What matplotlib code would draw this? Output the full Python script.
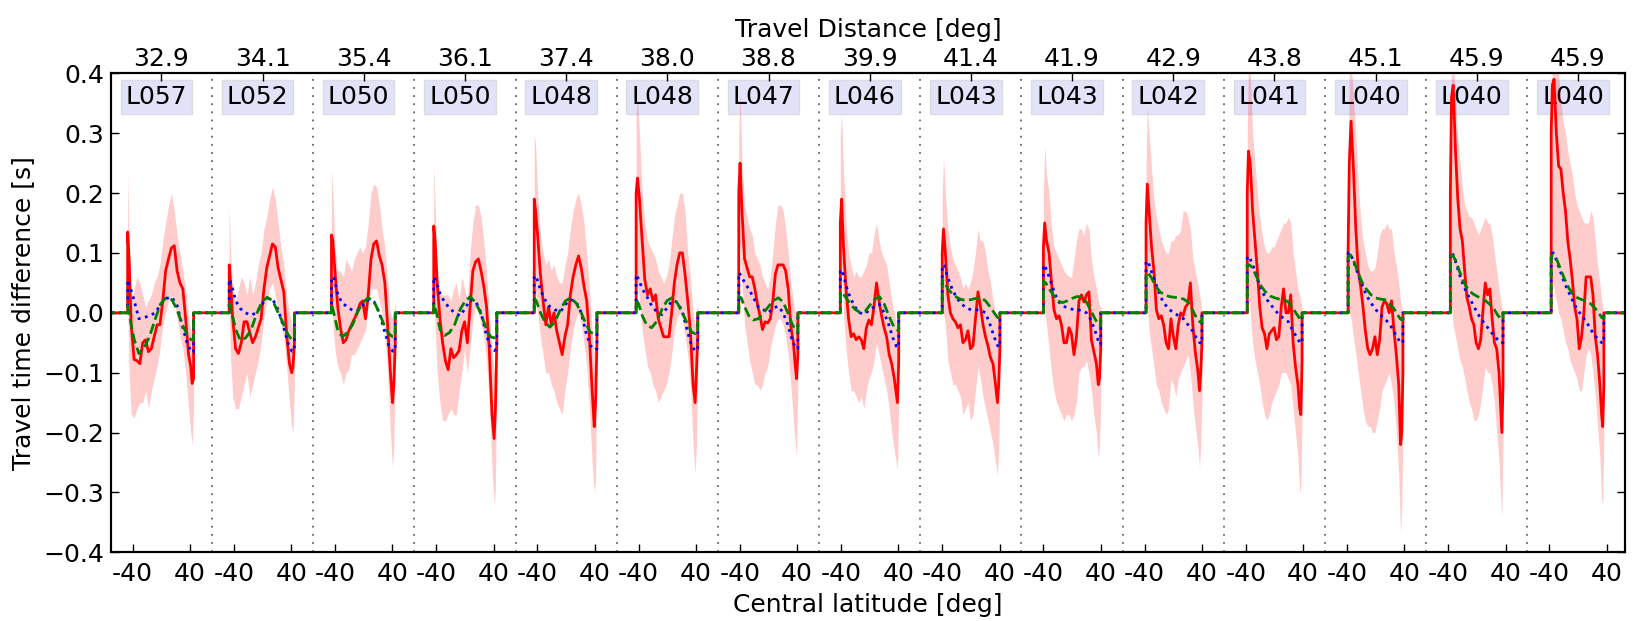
import numpy as np
import matplotlib
matplotlib.use('Agg')
import matplotlib.pyplot as plt

# Panel metadata
labels = ['L057', 'L052', 'L050', 'L050', 'L048', 'L048', 'L047', 'L046',
          'L043', 'L043', 'L042', 'L041', 'L040', 'L040', 'L040']
distances = ['32.9', '34.1', '35.4', '36.1', '37.4', '38.0', '38.8', '39.9',
             '41.4', '41.9', '42.9', '43.8', '45.1', '45.9', '45.9']
lat_lo = [-47, -46.5, -45, -43.5, -44.5, -43.5, -41.5, -41, -40, -40, -38, -38, -38.5, -37, -37.5]
lat_hi = [45, 44.5, 44, 44.5, 43, 42.5, 41, 40.5, 40.5, 40, 40, 38.5, 38, 36.5, 36]

# sample positions as fraction of each panel's latitude range
frac_obs = [0, .022, .054, .098, .141, .185, .228, .272, .315, .359, .402, .446, .489,
            .533, .576, .62, .663, .707, .75, .793, .837, .88, .924, .957, .978, 1.0]
frac_model = [0, .04, .1, .17, .25, .33, .42, .5, .58, .67, .75, .83, .9, .96, 1.0]

# observed mean travel time difference (red)
obs_mean = [
    [0.135, 0.09, -0.02, -0.078, -0.08, -0.085, -0.05, -0.045, -0.065, -0.06, -0.04, -0.02, -0.02, 0.02, 0.07, 0.09, 0.108, 0.112, 0.07, 0.05, 0.04, -0.01, -0.07, -0.09, -0.118, -0.11],
    [0.08, 0.05, -0.01, -0.06, -0.068, -0.05, -0.015, -0.015, -0.033, -0.05, -0.04, -0.025, -0.01, 0.04, 0.075, 0.095, 0.115, 0.11, 0.075, 0.055, 0.035, -0.035, -0.085, -0.1, -0.09, -0.05],
    [0.13, 0.12, 0.07, 0.01, -0.025, -0.05, -0.045, -0.03, -0.02, -0.01, 0.0, 0.015, 0.02, -0.01, 0.03, 0.09, 0.115, 0.12, 0.095, 0.08, 0.05, -0.02, -0.1, -0.15, -0.12, -0.05],
    [0.145, 0.12, 0.05, -0.01, -0.05, -0.08, -0.095, -0.06, -0.075, -0.07, -0.063, -0.03, -0.015, -0.05, 0.01, 0.07, 0.085, 0.09, 0.07, 0.045, 0.01, -0.06, -0.17, -0.21, -0.16, -0.05],
    [0.19, 0.17, 0.13, 0.065, 0.02, -0.02, 0.01, -0.02, 0.0, -0.03, -0.05, -0.07, -0.04, -0.02, 0.03, 0.06, 0.08, 0.095, 0.075, 0.045, 0.02, -0.04, -0.13, -0.19, -0.15, -0.05],
    [0.2, 0.225, 0.19, 0.12, 0.055, 0.03, 0.04, 0.02, 0.03, -0.01, -0.025, -0.04, -0.04, -0.04, 0.0, 0.05, 0.08, 0.1, 0.1, 0.065, 0.02, -0.03, -0.12, -0.15, -0.1, -0.04],
    [0.2, 0.25, 0.17, 0.09, 0.075, 0.06, 0.06, 0.04, 0.015, -0.005, -0.028, -0.015, -0.017, -0.01, 0.02, 0.065, 0.08, 0.08, 0.08, 0.07, 0.04, -0.022, -0.05, -0.09, -0.11, -0.07],
    [0.15, 0.19, 0.11, 0.04, -0.01, -0.04, -0.035, -0.045, -0.04, -0.045, -0.06, -0.025, -0.012, -0.02, 0.01, 0.05, 0.02, -0.005, -0.025, -0.04, -0.07, -0.085, -0.11, -0.135, -0.15, -0.08],
    [0.1, 0.14, 0.1, 0.03, 0.0, -0.01, -0.015, -0.025, -0.02, -0.05, -0.045, -0.03, -0.06, -0.055, -0.01, 0.035, 0.01, -0.02, -0.04, -0.055, -0.075, -0.085, -0.12, -0.15, -0.12, -0.06],
    [0.11, 0.15, 0.12, 0.1, 0.05, 0.005, -0.01, -0.005, -0.02, -0.05, -0.05, -0.025, -0.035, -0.07, -0.04, 0.02, 0.03, 0.018, 0.03, 0.035, -0.045, -0.065, -0.085, -0.12, -0.11, -0.06],
    [0.15, 0.215, 0.17, 0.11, 0.07, 0.005, -0.01, -0.005, -0.02, -0.05, -0.06, -0.01, -0.04, -0.06, -0.02, 0.0, -0.005, 0.01, 0.015, 0.05, -0.02, -0.065, -0.095, -0.13, -0.1, -0.05],
    [0.2, 0.27, 0.25, 0.17, 0.12, 0.07, 0.01, -0.025, -0.035, -0.06, -0.035, -0.03, -0.025, -0.045, -0.04, 0.01, 0.04, 0.0, 0.0, 0.03, -0.05, -0.09, -0.12, -0.16, -0.17, -0.08],
    [0.1, 0.25, 0.32, 0.24, 0.14, 0.07, 0.045, 0.01, -0.03, -0.06, -0.07, -0.06, -0.04, -0.07, -0.045, 0.01, 0.02, 0.015, 0.0, 0.02, -0.03, -0.07, -0.12, -0.22, -0.2, -0.1],
    [0.2, 0.36, 0.38, 0.27, 0.19, 0.14, 0.12, 0.07, 0.025, 0.01, -0.01, -0.02, -0.05, -0.06, -0.045, 0.005, 0.05, 0.03, 0.04, -0.01, -0.05, -0.06, -0.1, -0.16, -0.2, -0.12],
    [0.3, 0.38, 0.39, 0.3, 0.245, 0.24, 0.2, 0.17, 0.12, 0.09, 0.055, 0.01, -0.01, -0.06, -0.04, 0.0, 0.06, 0.06, 0.06, 0.03, -0.04, -0.07, -0.12, -0.17, -0.19, -0.12],
]

# upper / lower envelope (pink band)
obs_upper = [
    [0.24, 0.12, 0.02, 0.04, 0.06, 0.05, 0.03, 0.01, 0.02, 0.03, 0.05, 0.06, 0.08, 0.12, 0.15, 0.18, 0.2, 0.17, 0.13, 0.1, 0.07, 0.04, -0.01, -0.03, -0.04, -0.02],
    [0.18, 0.1, 0.04, 0.02, 0.04, 0.06, 0.05, 0.03, 0.06, 0.03, 0.05, 0.08, 0.1, 0.14, 0.16, 0.19, 0.21, 0.19, 0.15, 0.11, 0.08, 0.03, 0.0, -0.02, -0.03, -0.03],
    [0.24, 0.2, 0.11, 0.07, 0.07, 0.06, 0.09, 0.08, 0.07, 0.09, 0.1, 0.11, 0.1, 0.11, 0.15, 0.2, 0.215, 0.21, 0.18, 0.14, 0.11, 0.05, 0.0, -0.01, 0.0, 0.02],
    [0.25, 0.18, 0.08, 0.03, 0.03, 0.03, 0.03, 0.02, 0.04, 0.05, 0.02, 0.06, 0.04, 0.02, 0.1, 0.15, 0.18, 0.18, 0.16, 0.12, 0.07, 0.0, -0.06, -0.1, -0.08, -0.02],
    [0.3, 0.28, 0.2, 0.13, 0.1, 0.08, 0.09, 0.07, 0.08, 0.06, 0.05, 0.05, 0.08, 0.1, 0.14, 0.17, 0.19, 0.2, 0.18, 0.15, 0.1, 0.04, -0.03, -0.07, -0.05, 0.0],
    [0.33, 0.36, 0.3, 0.2, 0.15, 0.12, 0.11, 0.1, 0.09, 0.07, 0.06, 0.05, 0.06, 0.08, 0.12, 0.16, 0.18, 0.2, 0.2, 0.17, 0.1, 0.06, 0.0, -0.02, 0.0, 0.02],
    [0.3, 0.37, 0.25, 0.18, 0.16, 0.14, 0.13, 0.1, 0.09, 0.08, 0.06, 0.05, 0.04, 0.06, 0.1, 0.15, 0.18, 0.18, 0.17, 0.14, 0.1, 0.05, 0.02, 0.0, -0.02, 0.0],
    [0.3, 0.33, 0.24, 0.15, 0.1, 0.08, 0.06, 0.07, 0.06, 0.06, 0.07, 0.08, 0.1, 0.1, 0.13, 0.15, 0.12, 0.1, 0.09, 0.08, 0.05, 0.02, 0.0, -0.02, -0.03, -0.01],
    [0.2, 0.26, 0.2, 0.14, 0.11, 0.09, 0.08, 0.07, 0.06, 0.04, 0.05, 0.04, 0.05, 0.07, 0.1, 0.14, 0.12, 0.12, 0.1, 0.07, 0.05, 0.02, 0.0, -0.02, -0.01, 0.01],
    [0.2, 0.28, 0.23, 0.2, 0.14, 0.11, 0.1, 0.09, 0.08, 0.07, 0.065, 0.06, 0.06, 0.09, 0.12, 0.14, 0.14, 0.13, 0.15, 0.14, 0.09, 0.06, 0.04, 0.02, 0.01, 0.01],
    [0.25, 0.345, 0.3, 0.24, 0.19, 0.16, 0.14, 0.12, 0.11, 0.1, 0.1, 0.12, 0.12, 0.13, 0.13, 0.14, 0.17, 0.17, 0.16, 0.14, 0.09, 0.07, 0.05, 0.03, 0.02, 0.0],
    [0.3, 0.42, 0.4, 0.3, 0.25, 0.2, 0.16, 0.13, 0.11, 0.1, 0.1, 0.11, 0.11, 0.12, 0.13, 0.14, 0.15, 0.15, 0.16, 0.15, 0.1, 0.07, 0.04, 0.03, 0.02, 0.01],
    [0.2, 0.4, 0.42, 0.36, 0.3, 0.22, 0.16, 0.12, 0.1, 0.08, 0.07, 0.07, 0.075, 0.1, 0.13, 0.14, 0.14, 0.15, 0.14, 0.14, 0.1, 0.08, 0.05, 0.02, 0.01, 0.0],
    [0.25, 0.42, 0.42, 0.36, 0.29, 0.25, 0.21, 0.18, 0.17, 0.16, 0.16, 0.15, 0.14, 0.13, 0.14, 0.15, 0.16, 0.15, 0.15, 0.13, 0.1, 0.07, 0.04, 0.02, 0.01, 0.0],
    [0.3, 0.42, 0.45, 0.42, 0.4, 0.35, 0.32, 0.3, 0.27, 0.25, 0.23, 0.2, 0.18, 0.17, 0.16, 0.15, 0.15, 0.15, 0.17, 0.16, 0.12, 0.08, 0.05, 0.02, 0.01, 0.0],
]
obs_lower = [
    [0.03, -0.1, -0.17, -0.175, -0.16, -0.15, -0.15, -0.13, -0.16, -0.13, -0.11, -0.09, -0.06, -0.02, 0.0, 0.02, 0.03, 0.02, -0.01, -0.04, -0.06, -0.1, -0.16, -0.2, -0.22, -0.16],
    [0.0, -0.08, -0.14, -0.16, -0.16, -0.14, -0.12, -0.1, -0.14, -0.12, -0.1, -0.08, -0.05, -0.01, 0.02, 0.04, 0.05, 0.03, 0.0, -0.02, -0.04, -0.09, -0.15, -0.19, -0.2, -0.12],
    [0.03, -0.02, -0.06, -0.09, -0.1, -0.12, -0.1, -0.095, -0.07, -0.07, -0.06, -0.05, -0.04, -0.03, 0.01, 0.04, 0.04, 0.04, 0.02, 0.0, -0.03, -0.1, -0.2, -0.26, -0.22, -0.08],
    [0.05, -0.02, -0.1, -0.15, -0.18, -0.18, -0.17, -0.16, -0.17, -0.17, -0.13, -0.1, -0.06, -0.1, -0.06, -0.01, 0.01, 0.0, -0.02, -0.04, -0.08, -0.15, -0.26, -0.32, -0.29, -0.1],
    [0.08, 0.04, 0.0, -0.04, -0.07, -0.1, -0.1, -0.12, -0.13, -0.15, -0.16, -0.17, -0.13, -0.1, -0.06, -0.03, -0.01, 0.0, -0.02, -0.05, -0.09, -0.16, -0.25, -0.3, -0.28, -0.1],
    [0.1, 0.05, 0.02, -0.03, -0.06, -0.09, -0.1, -0.12, -0.13, -0.15, -0.14, -0.13, -0.12, -0.1, -0.07, -0.03, -0.01, 0.0, -0.01, -0.04, -0.07, -0.12, -0.22, -0.27, -0.22, -0.1],
    [0.1, 0.12, 0.05, -0.02, -0.05, -0.08, -0.1, -0.12, -0.12, -0.13, -0.12, -0.1, -0.09, -0.06, -0.04, -0.02, -0.01, -0.01, -0.02, -0.04, -0.07, -0.12, -0.18, -0.22, -0.24, -0.12],
    [0.08, 0.08, 0.0, -0.06, -0.1, -0.13, -0.13, -0.14, -0.15, -0.14, -0.16, -0.13, -0.11, -0.1, -0.08, -0.05, -0.07, -0.09, -0.11, -0.13, -0.16, -0.2, -0.23, -0.25, -0.26, -0.15],
    [0.0, 0.0, -0.02, -0.08, -0.1, -0.12, -0.12, -0.13, -0.14, -0.17, -0.16, -0.15, -0.18, -0.17, -0.13, -0.09, -0.11, -0.14, -0.16, -0.18, -0.2, -0.22, -0.25, -0.27, -0.23, -0.13],
    [0.0, 0.0, -0.02, -0.06, -0.1, -0.13, -0.15, -0.16, -0.17, -0.18, -0.17, -0.17, -0.18, -0.17, -0.15, -0.1, -0.09, -0.09, -0.08, -0.1, -0.13, -0.17, -0.2, -0.24, -0.22, -0.15],
    [0.02, 0.01, -0.03, -0.06, -0.09, -0.12, -0.13, -0.15, -0.16, -0.17, -0.16, -0.11, -0.12, -0.14, -0.11, -0.1, -0.09, -0.08, -0.07, -0.1, -0.15, -0.19, -0.22, -0.26, -0.22, -0.14],
    [0.05, 0.03, 0.0, -0.05, -0.08, -0.1, -0.12, -0.15, -0.17, -0.18, -0.17, -0.15, -0.14, -0.13, -0.12, -0.1, -0.1, -0.1, -0.11, -0.12, -0.16, -0.2, -0.24, -0.3, -0.29, -0.17],
    [0.0, 0.0, -0.01, -0.04, -0.07, -0.1, -0.13, -0.16, -0.18, -0.19, -0.19, -0.2, -0.2, -0.18, -0.16, -0.13, -0.12, -0.11, -0.1, -0.12, -0.15, -0.2, -0.27, -0.37, -0.33, -0.2],
    [0.02, 0.01, -0.02, -0.04, -0.06, -0.08, -0.09, -0.11, -0.13, -0.15, -0.16, -0.18, -0.18, -0.17, -0.15, -0.12, -0.09, -0.1, -0.1, -0.12, -0.15, -0.2, -0.25, -0.31, -0.34, -0.2],
    [0.05, 0.05, 0.04, 0.02, 0.0, -0.01, -0.03, -0.05, -0.06, -0.08, -0.09, -0.1, -0.11, -0.13, -0.13, -0.1, -0.07, -0.06, -0.07, -0.1, -0.14, -0.19, -0.24, -0.31, -0.32, -0.2],
]

# model curves (blue dotted, green dashed)
model_blue = [
    [0.055, 0.042, 0.02, -0.01, -0.008, -0.005, 0.0, 0.014, 0.024, 0.026, 0.012, -0.022, -0.05, -0.064, -0.066],
    [0.056, 0.045, 0.02, 0.007, 0.0, -0.004, 0.0, 0.014, 0.024, 0.022, 0.005, -0.022, -0.05, -0.064, -0.063],
    [0.06, 0.058, 0.03, 0.016, 0.01, 0.004, 0.004, 0.014, 0.022, 0.018, 0.0, -0.03, -0.055, -0.064, -0.063],
    [0.06, 0.052, 0.032, 0.018, 0.008, 0.0, -0.005, 0.008, 0.022, 0.018, 0.0, -0.035, -0.058, -0.063, -0.06],
    [0.062, 0.058, 0.038, 0.022, 0.01, 0.005, 0.002, 0.014, 0.022, 0.018, 0.0, -0.035, -0.055, -0.062, -0.06],
    [0.064, 0.056, 0.04, 0.028, 0.012, 0.002, -0.003, 0.008, 0.02, 0.018, 0.002, -0.03, -0.055, -0.064, -0.06],
    [0.067, 0.062, 0.05, 0.04, 0.025, 0.01, 0.005, 0.0, 0.008, 0.011, 0.0, -0.02, -0.045, -0.058, -0.06],
    [0.072, 0.068, 0.045, 0.025, 0.01, 0.0, -0.002, 0.005, 0.01, 0.014, 0.0, -0.02, -0.042, -0.056, -0.058],
    [0.08, 0.078, 0.058, 0.04, 0.025, 0.015, 0.008, 0.005, 0.005, 0.004, 0.0, -0.02, -0.04, -0.055, -0.057],
    [0.08, 0.075, 0.06, 0.04, 0.02, 0.012, 0.008, 0.006, 0.005, 0.004, 0.0, -0.012, -0.03, -0.048, -0.053],
    [0.086, 0.085, 0.068, 0.05, 0.028, 0.015, 0.005, 0.0, -0.005, -0.01, -0.02, -0.03, -0.042, -0.05, -0.051],
    [0.094, 0.093, 0.08, 0.06, 0.04, 0.025, 0.015, 0.005, -0.003, -0.01, -0.015, -0.03, -0.04, -0.05, -0.05],
    [0.1, 0.1, 0.085, 0.068, 0.048, 0.03, 0.016, 0.006, -0.003, -0.01, -0.018, -0.03, -0.042, -0.05, -0.05],
    [0.1, 0.1, 0.085, 0.065, 0.045, 0.03, 0.015, 0.002, -0.01, -0.02, -0.03, -0.038, -0.045, -0.05, -0.05],
    [0.1, 0.1, 0.088, 0.07, 0.05, 0.035, 0.018, 0.005, -0.005, -0.015, -0.028, -0.038, -0.045, -0.05, -0.05],
]
model_green = [
    [0.012, -0.012, -0.045, -0.068, -0.058, -0.04, -0.01, 0.015, 0.025, 0.022, 0.005, -0.02, -0.036, -0.045, -0.045],
    [0.015, 0.0, -0.028, -0.046, -0.042, -0.03, -0.002, 0.018, 0.026, 0.02, 0.0, -0.018, -0.036, -0.045, -0.044],
    [0.015, -0.002, -0.03, -0.04, -0.033, -0.02, 0.004, 0.018, 0.025, 0.018, 0.0, -0.022, -0.035, -0.04, -0.04],
    [0.015, 0.002, -0.028, -0.038, -0.033, -0.02, 0.006, 0.02, 0.027, 0.016, -0.002, -0.026, -0.04, -0.042, -0.04],
    [0.025, 0.018, 0.0, -0.015, -0.024, -0.015, 0.006, 0.02, 0.025, 0.016, 0.0, -0.02, -0.033, -0.035, -0.034],
    [0.022, 0.015, -0.005, -0.02, -0.025, -0.015, 0.006, 0.02, 0.025, 0.016, 0.0, -0.018, -0.032, -0.035, -0.034],
    [0.027, 0.025, 0.01, -0.005, -0.012, -0.01, 0.0, 0.01, 0.02, 0.025, 0.018, 0.0, -0.018, -0.03, -0.032],
    [0.035, 0.033, 0.025, 0.015, 0.006, 0.001, 0.002, 0.012, 0.022, 0.027, 0.015, -0.005, -0.02, -0.028, -0.03],
    [0.055, 0.05, 0.04, 0.032, 0.026, 0.022, 0.021, 0.022, 0.024, 0.025, 0.02, 0.01, 0.0, -0.008, -0.01],
    [0.053, 0.05, 0.04, 0.03, 0.02, 0.017, 0.02, 0.024, 0.027, 0.027, 0.018, 0.003, -0.01, -0.02, -0.022],
    [0.067, 0.066, 0.058, 0.045, 0.035, 0.03, 0.027, 0.026, 0.025, 0.023, 0.018, 0.005, -0.008, -0.015, -0.017],
    [0.08, 0.08, 0.075, 0.06, 0.045, 0.035, 0.028, 0.025, 0.023, 0.022, 0.018, 0.008, -0.002, -0.01, -0.012],
    [0.094, 0.097, 0.088, 0.07, 0.052, 0.04, 0.03, 0.025, 0.023, 0.022, 0.015, 0.008, -0.003, -0.011, -0.012],
    [0.094, 0.096, 0.088, 0.07, 0.052, 0.04, 0.032, 0.028, 0.024, 0.02, 0.014, 0.006, -0.004, -0.01, -0.011],
    [0.094, 0.097, 0.09, 0.075, 0.057, 0.042, 0.03, 0.025, 0.022, 0.02, 0.015, 0.008, 0.0, -0.008, -0.01],
]

FS = 18
PANEL_STEP = 141.2
n_panels = len(labels)
centers = np.arange(n_panels) * PANEL_STEP


def panel_x(k, frac):
    return centers[k] + lat_lo[k] + np.asarray(frac) * (lat_hi[k] - lat_lo[k])


def joined_line(series, frac):
    # one continuous line, sitting at zero between the panels
    xs, ys = [centers[0] - PANEL_STEP], [0.0]
    for k in range(n_panels):
        x = panel_x(k, frac)
        xs += [x[0]] + list(x) + [x[-1]]
        ys += [0.0] + list(series[k]) + [0.0]
    xs.append(centers[-1] + PANEL_STEP)
    ys.append(0.0)
    return xs, ys


fig = plt.figure(figsize=(16.4, 6.21), dpi=100)
ax = fig.add_axes([0.0677, 0.1106, 0.9232, 0.7714])

for k in range(n_panels):
    ax.fill_between(panel_x(k, frac_obs), obs_lower[k], obs_upper[k],
                    color='r', alpha=0.2, lw=0, zorder=1)

x, y = joined_line(obs_mean, frac_obs)
ax.plot(x, y, color='r', lw=2, zorder=2)
x, y = joined_line(model_blue, frac_model)
ax.plot(x, y, color='b', ls=':', lw=2, zorder=2.1)
x, y = joined_line(model_green, frac_model)
ax.plot(x, y, color='g', ls='--', lw=2, zorder=2.2)

for k in range(n_panels - 1):
    ax.axvline(centers[k] + PANEL_STEP / 2, color='0.4', ls=(0, (1, 3.5)), lw=1.3, zorder=1.5)

for k in range(n_panels):
    ax.text(centers[k] - 7, 0.36, labels[k], ha='center', va='center', fontsize=FS,
            zorder=0.9, bbox=dict(boxstyle='square,pad=0.2', facecolor='#e2e2f8',
                                  edgecolor='#dcdce4', lw=1))

ax.set_xlim(-70.2, centers[-1] + 65.6)
ax.set_ylim(-0.4, 0.4)
ax.set_yticks(np.arange(-0.4, 0.41, 0.1))
ax.set_yticklabels(['\u22120.4', '\u22120.3', '\u22120.2', '\u22120.1', '0.0', '0.1', '0.2', '0.3', '0.4'])
bottom_ticks = []
bottom_labels = []
for c in centers:
    bottom_ticks += [c - 40, c + 40]
    bottom_labels += ['-40', '40']
ax.set_xticks(bottom_ticks)
ax.set_xticklabels(bottom_labels)
ax.tick_params(axis='x', direction='in', length=6, width=1, labelsize=FS, pad=7, top=False)
ax.tick_params(axis='y', direction='in', length=6, width=1, labelsize=FS, pad=5, right=True)
ax.set_xlabel('Central latitude [deg]', fontsize=FS, labelpad=5)
ax.set_ylabel('Travel time difference [s]', fontsize=FS, labelpad=6)

ax2 = ax.twiny()
ax2.set_xlim(ax.get_xlim())
ax2.set_xticks(centers)
ax2.set_xticklabels(distances)
ax2.tick_params(axis='x', direction='in', length=6, width=1, labelsize=FS, pad=2)
ax2.set_xlabel('Travel Distance [deg]', fontsize=FS, labelpad=7)

for a in (ax, ax2):
    for s in a.spines.values():
        s.set_linewidth(1.5)

fig.savefig('out.png', dpi=100)
